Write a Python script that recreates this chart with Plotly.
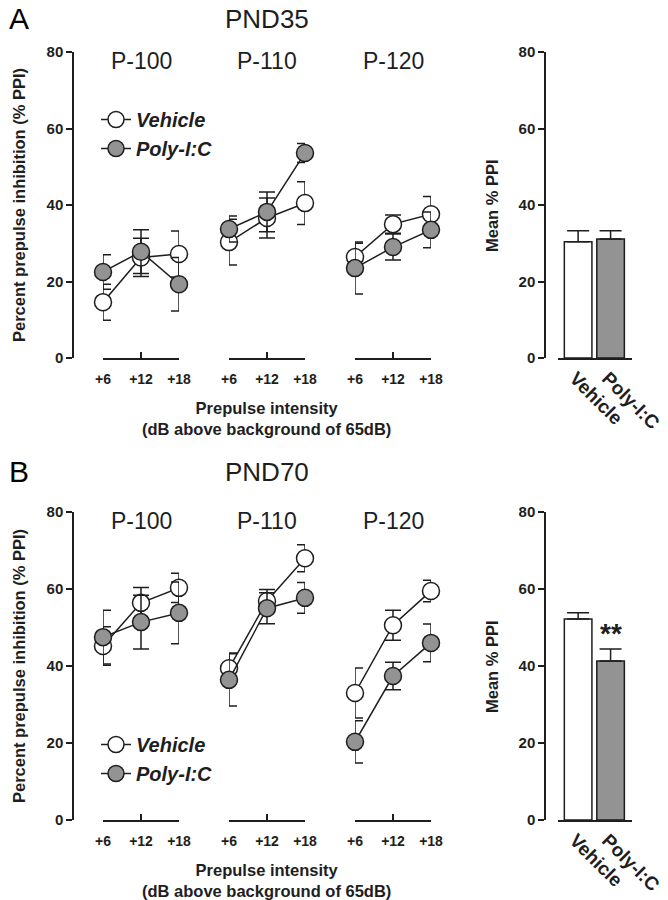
import plotly.graph_objects as go

# Prepulse groups and intensities
groups = ["P-100", "P-110", "P-120"]
intensities = ["+6", "+12", "+18"]
treatments = ["Vehicle", "Poly-I:C"]

# PND35 % PPI (mean and SEM), one row per prepulse group
pnd35_vehicle = [[14.6, 26.3, 27.2], [30.3, 36.6, 40.5], [26.4, 35.0, 37.6]]
pnd35_vehicle_sem = [[4.7, 5.0, 6.0], [6.0, 5.2, 5.6], [3.6, 2.4, 4.6]]
pnd35_polyic = [[22.5, 27.8, 19.3], [33.7, 38.2, 53.6], [23.5, 29.0, 33.5]]
pnd35_polyic_sem = [[4.5, 5.7, 7.0], [3.4, 5.2, 2.5], [6.8, 3.4, 4.7]]

# PND70 % PPI
pnd70_vehicle = [[45.2, 56.4, 60.3], [39.4, 56.9, 68.0], [33.0, 50.6, 59.5]]
pnd70_vehicle_sem = [[5.0, 4.0, 3.8], [4.0, 3.0, 3.5], [6.5, 3.9, 2.8]]
pnd70_polyic = [[47.5, 51.4, 53.8], [36.4, 55.0, 57.7], [20.3, 37.4, 46.0]]
pnd70_polyic_sem = [[7.0, 7.0, 8.0], [6.8, 4.0, 4.0], [5.5, 3.6, 4.9]]

# Mean % PPI bars
pnd35_mean = [30.4, 31.1]
pnd35_mean_sem = [2.9, 2.2]
pnd70_mean = [52.2, 41.3]
pnd70_mean_sem = [1.6, 3.1]

# the page puts the figure 8px in from the top-left corner
OFF = 8
W, H = 668 - OFF, 900 - OFF
FONT = "Arial, Liberation Sans, sans-serif"
INK = "#1e1e1e"
GREY = "#939393"


def px(x):
    return (x - OFF) / W


def py(y):
    return 1 - (y - OFF) / H


def note(text, x, y, size, bold=True, angle=0, color=INK, **kw):
    font = dict(family=FONT, size=size, color=color)
    if bold:
        font["weight"] = "bold"
    return dict(text=text, x=px(x), y=py(y), xref="paper", yref="paper",
                xanchor="center", yanchor="middle", showarrow=False,
                textangle=angle, font=font, **kw)


fig = go.Figure()

# pixel layout of the two rows: (y of 0, y of 80)
rows = [(358, 52), (820, 512)]
group_left = [103, 229, 355]
panels = [
    ("PND35", pnd35_vehicle, pnd35_vehicle_sem, pnd35_polyic, pnd35_polyic_sem, pnd35_mean, pnd35_mean_sem),
    ("PND70", pnd70_vehicle, pnd70_vehicle_sem, pnd70_polyic, pnd70_polyic_sem, pnd70_mean, pnd70_mean_sem),
]

layout = {}
annotations = []

for p, (name, veh, veh_sem, pic, pic_sem, mean, mean_sem) in enumerate(panels):
    y0, y80 = rows[p]
    yl = "y" + ("" if p == 0 else str(2 * p + 1))   # left y axis
    yb = "y" + str(2 * p + 2)                       # bar y axis
    legend_name = "legend" if p == 0 else "legend2"

    ax_style = dict(showline=True, linecolor=INK, linewidth=1.5, ticks="outside",
                    tickcolor=INK, tickwidth=1.5, ticklen=6, showgrid=False, zeroline=False,
                    tickfont=dict(family=FONT, size=15, color=INK, weight="bold"),
                    range=[0, 80], tickvals=[0, 20, 40, 60, 80], automargin=False,
                    domain=[py(y0), py(y80)], anchor="free")
    layout["yaxis" + yl[1:]] = dict(ax_style, position=px(73))
    layout["yaxis" + yb[1:]] = dict(ax_style, position=px(545))

    for g in range(3):
        xn = 4 * p + g + 1
        xname = "x" + ("" if xn == 1 else str(xn))
        layout["xaxis" + ("" if xn == 1 else str(xn))] = dict(
            domain=[px(group_left[g]), px(group_left[g] + 76)], anchor=yl,
            type="category", categoryorder="array", categoryarray=intensities,
            range=[0, 2], showline=True, linecolor=INK, linewidth=1.5, automargin=False,
            ticks="inside", ticklen=6, tickwidth=1.5, tickcolor=INK, showgrid=False,
            tickfont=dict(family=FONT, size=14, color=INK, weight="bold"),
            ticklabelstandoff=7)
        for t, (vals, sems, fill) in enumerate([(veh, veh_sem, "white"), (pic, pic_sem, GREY)]):
            fig.add_trace(go.Scatter(
                x=intensities, y=vals[g], xaxis=xname, yaxis=yl,
                mode="lines+markers", name=treatments[t],
                legend=legend_name, showlegend=(g == 0),
                line=dict(color=INK, width=1.5),
                marker=dict(size=17, color=fill, line=dict(color=INK, width=1.5)),
                error_y=dict(type="data", array=sems[g], color=INK, thickness=1.5, width=8),
                cliponaxis=False))
        annotations.append(note(groups[g], group_left[g] + 38, y80 + 9, 23, bold=False))

    # mean bars
    xb = 4 * p + 4
    layout["xaxis" + str(xb)] = dict(
        domain=[px(558), px(632)], anchor=yb, range=[-0.62, 1.66], automargin=False,
        type="category", categoryorder="array", categoryarray=treatments,
        showline=True, linecolor=INK, linewidth=1.5, ticks="", showgrid=False,
        tickangle=45, ticklabelshift=-3, ticklabelstandoff=0,
        tickfont=dict(family=FONT, size=19, color=INK, weight="bold"))
    fig.add_trace(go.Bar(
        x=treatments, y=mean, xaxis="x" + str(xb), yaxis=yb, showlegend=False,
        marker=dict(color=["white", GREY], line=dict(color=INK, width=1.5)),
        error_y=dict(type="data", symmetric=False, array=mean_sem, arrayminus=[0, 0],
                     color=INK, thickness=1.5, width=11),
        width=0.85))

    # panel titles and axis titles
    top = 19 if p == 0 else 472
    annotations.append(note("AB"[p], 19, top, 30, bold=False, color="black"))
    annotations.append(note(name, 267, top, 26, bold=False))
    mid = (y0 + y80) / 2
    annotations.append(note("Percent prepulse inhibition (% PPI)", 19, mid, 16.5, angle=-90))
    annotations.append(note("Mean % PPI", 492, mid, 16.5, angle=-90))
    annotations.append(note("Prepulse intensity<br>(dB above background of 65dB)", 266, y0 + 60, 16.5,
                            align="center"))

# significance marker
annotations.append(dict(text="**", x=1, y=pnd70_mean[1] + pnd70_mean_sem[1], xref="x8", yref="y4",
                        xanchor="center", yanchor="bottom", showarrow=False, yshift=-2,
                        font=dict(family=FONT, size=28, color=INK, weight="bold")))

legend_font = dict(family=FONT, size=20, color=INK, weight="bold", style="italic")
layout["legend"] = dict(x=px(96), y=py(100), xanchor="left", yanchor="top",
                        font=legend_font, bgcolor="rgba(0,0,0,0)", tracegroupgap=0)
layout["legend2"] = dict(x=px(96), y=py(725), xanchor="left", yanchor="top",
                         font=legend_font, bgcolor="rgba(0,0,0,0)", tracegroupgap=0)

fig.update_layout(layout)
fig.update_layout(width=W, height=H, margin=dict(l=0, r=0, t=0, b=0, autoexpand=False),
                  plot_bgcolor="white", paper_bgcolor="white",
                  annotations=annotations, bargap=0.15)

fig.write_html("out.html")
